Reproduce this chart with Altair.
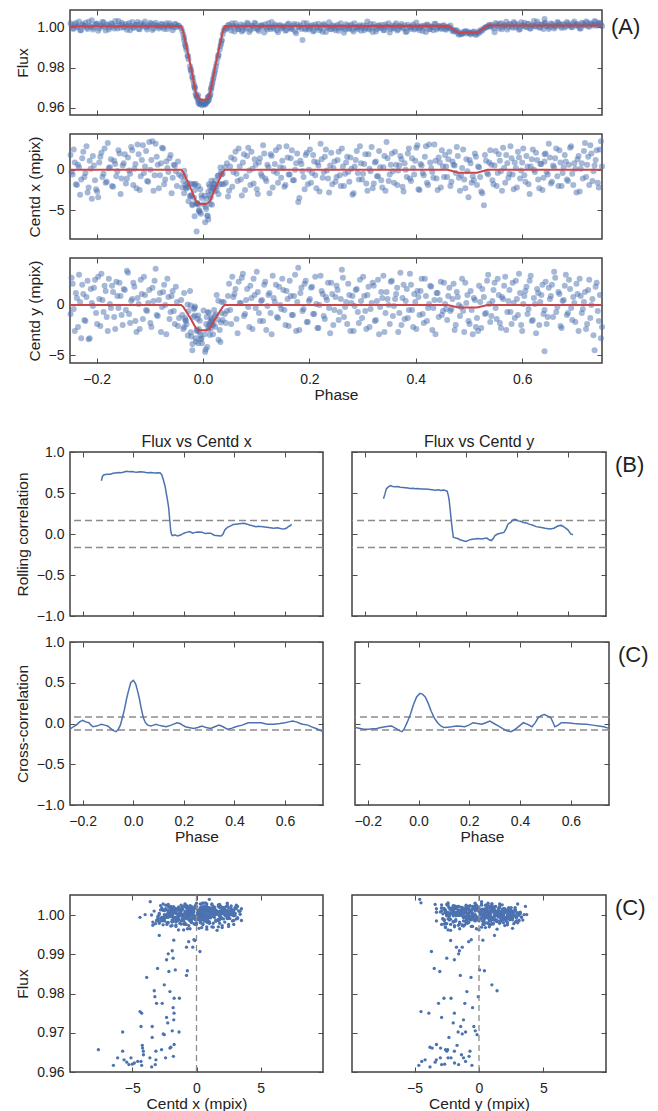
import altair as alt
import pandas as pd

# ---------------- phase-folded light curve: flux and centroid shifts ----------------
# out-of-transit, before primary eclipse
pre_phase = [-0.249, -0.245, -0.241, -0.237, -0.233, -0.229, -0.225, -0.221, -0.217, -0.213,
             -0.209, -0.205, -0.201, -0.197, -0.193, -0.189, -0.185, -0.181, -0.177, -0.173,
             -0.169, -0.165, -0.161, -0.157, -0.153,
             -0.149, -0.145, -0.141, -0.137, -0.133, -0.129, -0.125, -0.121, -0.117, -0.113,
             -0.109, -0.105, -0.101, -0.097, -0.093, -0.089, -0.085, -0.081, -0.077, -0.073,
             -0.069, -0.065, -0.061, -0.057, -0.053, -0.049, -0.045]
pre_flux = [1.0019, 0.9994, 1.0013, 1.0001, 1.0028, 0.9985, 1.0010, 1.0022, 0.9991, 1.0007,
            1.0034, 0.9998, 1.0016, 0.9982, 1.0010, 1.0025, 1.0001, 1.0013, 0.9988, 1.0019,
            1.0004, 1.0031, 0.9994, 1.0010, 1.0022,
            0.9998, 1.0016, 1.0007, 0.9985, 1.0025, 1.0001, 1.0013, 0.9991, 1.0019, 1.0004,
            1.0028, 0.9988, 1.0010, 1.0016, 0.9994, 1.0022, 1.0007, 1.0001, 1.0013, 0.9991,
            1.0019, 1.0004, 1.0010, 0.9985, 1.0016, 1.0001, 1.0007]
pre_cx = [1.8, -0.6, 0.9, -1.9, 0.3, -1.2, 2.2, -0.4, -2.8, 1.1,
          -3.6, 0.5, -2.4, -3.4, 1.6, -0.9, 2.6, -1.5, 0.2, 1.3,
          -2.1, 0.7, -0.2, 2.0, -1.1,
          0.8, -1.7, 1.5, -0.5, 2.4, 0.1, -2.3, 1.9, -0.8, 3.0,
          0.4, -1.4, 3.4, 1.2, -2.6, 3.2, 0.6, -0.7, 2.7, -1.8,
          1.0, -0.3, 1.8, -1.0, 0.5, -2.0, -0.6]
pre_cy = [-0.9, 2.1, -2.6, 0.7, 3.0, -3.3, 1.1, -1.6, 2.4, -3.3,
          0.2, 1.7, -0.8, 2.8, -2.1, 0.5, 1.9, -1.2, 2.6, -0.3,
          1.3, -2.4, 0.9, 2.2, -1.0,
          1.6, -0.5, 3.2, -1.8, 0.6, 1.8, -2.7, 0.1, 2.5, -1.4,
          1.0, -0.6, 1.5, -2.2, 0.4, 3.6, -1.1, 1.2, -0.2, 2.0,
          -2.9, 0.8, -0.7, 1.4, -1.9, 0.3, -1.3]
fill_pre_phase = [-0.247, -0.243, -0.239, -0.235, -0.231, -0.227, -0.223, -0.219, -0.215, -0.211,
                  -0.207, -0.203, -0.199, -0.195, -0.191, -0.187, -0.183, -0.179, -0.175, -0.171,
                  -0.167, -0.163, -0.159, -0.155, -0.151, -0.147, -0.143, -0.139, -0.135, -0.131,
                  -0.127, -0.123, -0.119, -0.115, -0.111, -0.107, -0.103, -0.099, -0.095, -0.091,
                  -0.087, -0.083, -0.079, -0.075, -0.071, -0.067, -0.063, -0.059, -0.055, -0.051,
                  -0.047]
fill_pre_flux = [1.0008, 0.9992, 1.0021, 1.0003, 0.9985, 1.0014, 1.0006, 0.9998, 1.0027, 1.0001,
                 0.9989, 1.0012, 1.0018, 0.9995, 1.0004, 1.0024, 0.9983, 1.0010, 1.0000, 1.0016,
                 0.9993, 1.0007, 1.0030, 0.9997, 1.0013, 1.0002, 0.9987, 1.0019, 1.0005, 0.9996,
                 1.0011, 1.0025, 0.9990, 1.0008, 1.0015, 0.9999, 1.0003, 1.0022, 0.9986, 1.0012,
                 1.0006, 0.9994, 1.0017, 1.0001, 1.0009, 0.9991, 1.0020, 1.0004, 0.9998, 1.0014,
                 1.0007]
fill_pre_cx = [-0.3, 2.5, -1.8, 0.6, -3.1, 1.4, -0.9, 2.9, -2.2, 0.1,
               1.7, -1.3, -2.7, 0.9, 2.1, -0.5, -1.6, 3.3, 0.3, -2.0,
               1.1, -0.8, 2.4, -3.0, 0.5, 1.9, -1.1, -0.1, 2.8, -1.9,
               0.7, 3.1, -2.5, 1.2, -0.4, 2.3, -1.5, 0.0, 3.5, -0.7,
               1.6, -2.3, 0.8, 2.6, -1.2, 0.2, 1.4, -2.9, 0.6, -0.2,
               1.0]
fill_pre_cy = [2.7, -0.4, 1.2, -2.2, 0.3, 2.0, -1.5, 0.8, -3.4, 1.6,
               -0.1, 2.5, -1.9, 0.6, 3.1, -0.7, 1.4, -2.6, 0.1, 1.9,
               -1.2, 2.3, -0.3, 0.9, -2.0, 1.5, 3.4, -0.9, 0.4, 2.2,
               -1.6, 0.7, -2.4, 1.1, 2.8, -0.5, 0.2, -1.8, 1.7, 2.4,
               -1.0, 0.5, -2.7, 1.3, 0.0, 2.6, -1.4, 0.9, -0.6, 1.8,
               -2.1]

# primary eclipse (edges + in transit)
tr_phase = [-0.041, -0.039, -0.037, -0.0355, 0.037, 0.039, 0.041,
            -0.002, 0.004, 0.001, -0.006, 0.003, -0.007, 0.006, -0.004, 0.005, -0.009,
            0.008, -0.003, 0.010, -0.008, 0.007, -0.005, 0.011, -0.010, 0.009, -0.011,
            0.012, -0.012, 0.010, -0.013, 0.013, -0.009, 0.014, -0.014, 0.0146, -0.0152,
            0.0154, -0.0158, 0.0158, -0.0160, 0.0169, -0.0169, 0.0177, -0.0183, 0.0188, -0.0198,
            0.0198, -0.0201, 0.0209, -0.0218, 0.0218, -0.0229, 0.0229, -0.0232, 0.0243, -0.0244,
            0.0257, -0.0273, 0.0277, -0.0285, 0.0287, -0.0289, 0.0292, -0.0310, 0.0314, -0.0323,
            0.0328, -0.0330, 0.0338, -0.0338, 0.0349, -0.0352, 0.0353]
tr_flux = [0.9996, 0.9981, 0.9962, 0.9948, 0.9965, 0.9984, 0.9997,
           0.9613, 0.9617, 0.9617, 0.9619, 0.9619, 0.9620, 0.9623, 0.9625, 0.9627, 0.9627,
           0.9631, 0.9631, 0.9636, 0.9636, 0.9636, 0.9636, 0.9640, 0.9644, 0.9653, 0.9653,
           0.9653, 0.9657, 0.9657, 0.9661, 0.9661, 0.9663, 0.9668, 0.9670, 0.9688, 0.9695,
           0.9697, 0.9702, 0.9702, 0.9705, 0.9716, 0.9716, 0.9725, 0.9733, 0.9739, 0.9750,
           0.9750, 0.9754, 0.9764, 0.9775, 0.9775, 0.9788, 0.9788, 0.9792, 0.9805, 0.9807,
           0.9822, 0.9841, 0.9846, 0.9856, 0.9858, 0.9860, 0.9864, 0.9886, 0.9890, 0.9901,
           0.9907, 0.9909, 0.9918, 0.9918, 0.9932, 0.9935, 0.9936]
tr_cx = [-0.8, -2.2, -1.4, -2.9, -0.5, -1.8, 0.3,
         -3.49, -6.47, -4.27, -5.26, -3.21, -5.00, -4.84, -5.43, -4.58, -4.32,
         -5.64, -3.16, -6.14, -5.10, -3.63, -2.41, -1.80, -4.13, -5.75, -4.14,
         -3.16, -7.64, -2.72, -4.20, -2.07, -2.00, -4.22, -1.74, -3.45, -2.51,
         -2.59, -5.75, -1.36, -1.89, -4.32, -3.45, -2.24, -1.77, -2.33, -4.27,
         -1.75, -4.40, -1.82, -3.11, -2.67, -1.74, -1.33, -3.24, -2.07, -3.29,
         -2.51, -3.88, -0.78, -2.15, -0.71, -1.65, -3.03, -2.33, -1.82, -2.20,
         0.27, -1.89, -0.29, -0.78, -0.61, -0.12, -1.77]
tr_cy = [0.5, -1.0, -2.4, 1.2, -1.5, 0.3, -0.9,
         -3.8, -4.67, -0.55, -1.58, -2.9, -2.66, -1.9, -3.4, -4.44, -1.04,
         -4.18, -3.31, -2.17, -2.4, -1.2, -3.0, -0.77, -1.36, -0.7, -2.5,
         -1.91, -2.6, -2.43, -3.63, -2.98, -3.8, -1.7, -3.3, -2.33, -0.15,
         -1.3, -1.04, -1.62, -0.29, -1.42, -0.4, -2.0, -1.2, -2.9, -3.89,
         -1.91, -4.5, -0.5, -3.14, -1.1, -2.72, -2.17, -0.06, -0.94, 1.4,
         1.0, -0.62, -1.45, -3.04, 0.42, 0.04, -3.47, -1.91, -2.5, -1.58,
         -3.69, -1.52, -1.75, -1.3, -0.8, -2.2, 0.3]

# out-of-transit, between the eclipses
mid_phase = [0.043, 0.047, 0.051, 0.055, 0.059, 0.063, 0.067, 0.071, 0.075, 0.079,
             0.083, 0.087, 0.091, 0.095, 0.099, 0.103, 0.107, 0.111, 0.115, 0.119,
             0.123, 0.127, 0.131, 0.135, 0.139, 0.143, 0.147,
             0.151, 0.155, 0.159, 0.163, 0.167, 0.171, 0.175, 0.179, 0.183, 0.187,
             0.191, 0.195, 0.199, 0.203, 0.207, 0.211, 0.215, 0.219, 0.223, 0.227,
             0.231, 0.235, 0.239, 0.243, 0.247, 0.251, 0.255, 0.259, 0.263, 0.267,
             0.271, 0.275, 0.279, 0.283, 0.287, 0.291, 0.295, 0.299,
             0.303, 0.307, 0.311, 0.315, 0.319, 0.323, 0.327, 0.331, 0.335, 0.339,
             0.343, 0.347, 0.351, 0.355, 0.359, 0.363, 0.367, 0.371, 0.375, 0.379,
             0.383, 0.387, 0.391, 0.395, 0.399, 0.403, 0.407, 0.411, 0.415, 0.419,
             0.423, 0.427, 0.431, 0.435, 0.439, 0.443, 0.447, 0.451, 0.455]
mid_flux = [0.9988, 1.0010, 0.9998, 1.0019, 0.9979, 1.0004, 0.9991, 1.0013, 0.9985, 1.0001,
            1.0022, 0.9976, 1.0007, 0.9994, 1.0016, 0.9988, 1.0004, 1.0010, 0.9973, 0.9998,
            1.0019, 0.9991, 1.0001, 1.0013, 0.9985, 1.0007, 0.9994,
            1.0004, 0.9982, 1.0013, 0.9998, 0.9991, 1.0016, 0.9970, 1.0001, 1.0010, 0.9937,
            0.9994, 1.0019, 0.9988, 1.0004, 0.9979, 1.0013, 0.9998, 0.9985, 1.0007, 1.0016,
            0.9976, 1.0001, 0.9991, 1.0010, 0.9994, 1.0004, 0.9982, 1.0019, 0.9998, 0.9988,
            1.0007, 0.9994, 1.0013, 0.9979, 1.0001, 0.9991, 1.0010, 0.9998,
            0.9985, 1.0007, 0.9994, 1.0016, 0.9976, 1.0001, 0.9991, 1.0010, 0.9998, 0.9985,
            1.0013, 1.0001, 0.9973, 1.0007, 0.9994, 1.0019, 0.9988, 1.0004, 0.9998, 1.0010,
            0.9979, 1.0001, 0.9991, 1.0013, 0.9994, 1.0004, 0.9985, 1.0007, 0.9998, 0.9976,
            1.0010, 0.9991, 1.0001, 1.0016, 0.9988, 1.0004, 0.9994, 1.0007, 0.9991]
mid_cx = [-1.6, -3.3, 0.4, -2.1, 1.3, -0.5, 2.6, -1.2, 0.9, -2.5,
          1.7, -0.1, 2.2, -1.7, 0.6, -3.0, 1.4, -0.8, 2.0, -1.4,
          0.3, 1.9, -2.2, 0.7, -0.4, 2.8, -1.0,
          0.2, -1.9, 1.5, -0.6, 2.4, -1.3, 0.8, -4.0, 1.1, -0.2,
          -2.4, 2.1, 0.0, -1.6, 1.8, -0.7, 0.9, -2.7, 1.3, -0.3,
          2.5, -1.1, 0.5, -1.8, 1.0, -0.9, 2.2, -2.0, 0.4, -0.5,
          1.6, -1.5, 0.1, -2.9, 1.2, -0.4, 2.9, -1.2,
          0.7, -1.7, 1.9, -0.2, -2.3, 0.9, -0.8, 2.3, -1.3, 0.3,
          -2.6, 1.4, -0.6, 2.0, -1.6, 0.6, -0.1, 1.7, -2.1, 0.8,
          -0.9, 2.6, -1.4, 0.2, 1.1, 3.0, -2.5, 0.5, -0.7, 2.9,
          -1.9, 0.9, -0.3, 3.1, -1.1, 1.5, -2.2, 0.4, 1.8]
mid_cy = [-1.8, 0.9, -0.5, 2.8, 1.1, -1.4, 2.3, 0.2, 3.1, -0.9,
          1.6, -2.2, 0.7, 2.6, -0.3, 1.3, -1.6, 0.5, 2.0, -2.5,
          1.0, -0.8, 2.9, 0.3, -1.2, 1.8, -0.4,
          1.5, -2.0, 0.6, 2.4, -1.0, 0.9, -2.6, 3.7, 1.2, -0.6,
          2.1, -1.7, 0.4, 1.7, -0.9, 2.8, -2.3, 0.0, 1.4, -1.1,
          0.8, 2.2, -2.8, 1.1, -0.5, 1.9, -1.5, 0.6, 2.7, -0.2,
          -1.9, 1.0, 0.2, -2.6, 1.5, -0.7, 2.5, -1.3,
          0.9, -2.4, 1.8, -0.4, 2.2, -1.6, 0.4, -2.9, 1.3, 2.9,
          -0.8, 0.6, -1.9, 2.4, -0.1, 1.1, -2.7, 3.2, 0.7, -1.4,
          1.6, -0.5, 2.0, -2.2, 0.3, 1.4, -1.0, 2.6, -1.8, 0.9,
          -0.3, 1.9, -2.5, 0.5, 1.2, -1.2, 2.3, -0.6, 0.1]
fill_mid_phase = [0.045, 0.049, 0.053, 0.057, 0.061, 0.065, 0.069, 0.073, 0.077, 0.081,
                  0.085, 0.089, 0.093, 0.097, 0.101, 0.105, 0.109, 0.113, 0.117, 0.121,
                  0.125, 0.129, 0.133, 0.137, 0.141, 0.145, 0.149, 0.153, 0.157, 0.161,
                  0.165, 0.169, 0.173, 0.177, 0.181, 0.185, 0.189, 0.193, 0.197, 0.201,
                  0.205, 0.209, 0.213, 0.217, 0.221, 0.225, 0.229, 0.233, 0.237, 0.241,
                  0.245, 0.249, 0.253, 0.257, 0.261, 0.265, 0.269, 0.273, 0.277, 0.281,
                  0.285, 0.289, 0.293, 0.297, 0.301, 0.305, 0.309, 0.313, 0.317, 0.321,
                  0.325, 0.329, 0.333, 0.337, 0.341, 0.345, 0.349, 0.353, 0.357, 0.361,
                  0.365, 0.369, 0.373, 0.377, 0.381, 0.385, 0.389, 0.393, 0.397, 0.401,
                  0.405, 0.409, 0.413, 0.417, 0.421, 0.425, 0.429, 0.433, 0.437, 0.441,
                  0.445, 0.449, 0.453, 0.457]
fill_mid_flux = [0.9996, 1.0012, 0.9984, 1.0005, 1.0019, 0.9990, 1.0002, 0.9978, 1.0009, 0.9993,
                 1.0016, 0.9987, 1.0004, 1.0022, 0.9995, 0.9981, 1.0008, 0.9999, 1.0014, 0.9989,
                 1.0001, 1.0026, 0.9992, 1.0006, 0.9975, 1.0011, 0.9997, 1.0003, 0.9986, 1.0018,
                 0.9994, 1.0007, 0.9980, 1.0013, 1.0000, 0.9991, 1.0021, 0.9988, 1.0005, 0.9996,
                 1.0010, 0.9983, 1.0002, 1.0017, 0.9993, 0.9977, 1.0008, 0.9998, 1.0024, 0.9990,
                 1.0004, 0.9985, 1.0012, 0.9995, 1.0001, 0.9972, 1.0015, 0.9992, 1.0006, 0.9987,
                 1.0020, 0.9997, 1.0003, 0.9982, 1.0010, 0.9994, 1.0028, 0.9989, 1.0000, 1.0014,
                 0.9979, 1.0007, 0.9996, 1.0011, 0.9986, 1.0002, 1.0019, 0.9991, 0.9998, 1.0009,
                 0.9984, 1.0005, 1.0016, 0.9993, 0.9976, 1.0012, 0.9999, 1.0004, 0.9988, 1.0023,
                 0.9995, 1.0001, 0.9981, 1.0008, 1.0013, 0.9990, 1.0003, 0.9985, 1.0017, 0.9997,
                 1.0006, 0.9992, 1.0010, 0.9987]
fill_mid_cx = [0.8, -2.6, 1.5, -0.3, 2.2, -1.4, 0.4, -3.2, 1.9, -0.8,
               2.7, -1.9, 0.1, 1.3, -2.4, 0.9, -0.5, 3.0, -1.1, 0.6,
               -2.9, 1.7, -0.2, 2.4, -1.6, 0.3, 1.1, -2.1, 2.9, -0.6,
               1.4, -1.3, 0.0, 2.0, -3.5, 0.7, -0.9, 1.8, -1.8, 2.5,
               -0.4, 1.0, -2.3, 0.5, 3.2, -1.0, 1.6, -0.1, -2.8, 2.1,
               0.2, -1.5, 1.2, -0.7, 2.6, -2.0, 0.9, -0.3, 1.5, -3.1,
               0.4, 2.3, -1.2, 0.8, -0.5, 1.9, -2.6, 0.1, 2.8, -1.7,
               1.0, -0.8, 0.3, -2.2, 1.7, 3.4, -1.4, 0.6, -0.2, 2.2,
               -1.9, 0.5, 1.3, -2.7, 0.0, 2.0, -1.1, 1.4, -0.6, 2.7,
               -2.4, 0.7, -0.4, 1.6, -1.6, 3.1, 0.2, -1.0, 1.1, -2.5,
               0.9, 2.4, -0.9, 0.4]
fill_mid_cy = [-0.6, 2.1, -1.9, 0.8, 1.6, -2.8, 0.2, 2.7, -1.1, 0.5,
               -0.2, 1.9, -2.4, 1.0, 3.3, -0.8, 0.4, -1.6, 2.3, -0.1,
               1.2, -2.9, 0.7, 2.0, -1.3, 0.0, 2.6, -0.5, 1.4, -2.1,
               0.9, -1.0, 3.0, 0.3, -2.5, 1.7, -0.4, 2.4, -1.7, 0.6,
               1.8, -0.9, 0.1, -2.3, 2.9, 1.1, -1.4, 0.5, -0.3, 2.2,
               -2.0, 0.8, 1.5, -0.7, 3.5, -1.2, 0.3, 2.1, -2.6, 0.9,
               -0.1, 1.6, -1.8, 0.4, 2.8, -0.6, 1.0, -2.2, 0.2, 1.9,
               -1.5, 2.5, -0.2, 0.7, -2.7, 1.3, 0.0, 2.3, -1.1, 0.6,
               1.7, -0.8, -2.0, 2.0, 0.4, -1.3, 3.1, -0.5, 1.1, -2.4,
               0.8, 1.4, -0.9, 2.6, -1.6, 0.1, 1.8, -0.3, -2.9, 1.2,
               0.5, -1.0, 2.2, -0.4]

# secondary eclipse
sec_phase = [0.459, 0.463, 0.467, 0.469, 0.471, 0.475, 0.479, 0.481, 0.483, 0.487,
             0.489, 0.491, 0.495, 0.497, 0.499, 0.503, 0.505, 0.507, 0.511, 0.513,
             0.515, 0.519, 0.521, 0.523, 0.528, 0.532, 0.536, 0.540,
             0.461, 0.465, 0.473, 0.477, 0.485, 0.493, 0.501, 0.509, 0.517, 0.525,
             0.530, 0.534, 0.538]
sec_flux = [1.0001, 1.0000, 0.9992, 0.9980, 0.9985, 0.9983, 0.9970, 0.9962, 0.9975, 0.9966,
            0.9971, 0.9977, 0.9969, 0.9978, 0.9974, 0.9964, 0.9971, 0.9976, 0.9968, 0.9961,
            0.9973, 0.9980, 0.9976, 0.9987, 0.9994, 1.0001, 1.0006, 1.0003,
            0.9996, 1.0008, 0.9978, 0.9985, 0.9965, 0.9981, 0.9970, 0.9979, 0.9968, 0.9983,
            0.9997, 0.9999, 1.0012]
sec_cx = [-0.9, 2.2, -1.5, 1.0, 0.6, -0.4, 1.7, -1.0, -2.6, 0.2,
          2.5, -1.2, 1.3, -0.2, -3.4, 0.8, -1.6, -0.8, 2.0, 1.6,
          -1.9, 0.3, -0.9, -2.7, -4.4, 1.1, -0.6, 2.4,
          1.3, -2.0, 0.5, 2.8, -0.7, -2.3, 1.2, -1.3, 0.4, -2.9,
          1.8, -0.4, 0.9]
sec_cy = [-1.5, 1.7, -0.4, 0.6, 2.1, -2.0, 0.8, 0.0, -1.1, 2.6,
          -0.6, -2.7, 0.2, 1.0, -1.6, 1.4, -0.5, -2.9, 0.5, -2.2,
          -1.3, 1.9, 0.3, -2.3, 0.8, -0.8, 3.0, -1.7,
          0.9, -0.6, -2.5, 1.3, -0.2, 2.2, -1.9, 0.7, -2.6, 1.6,
          -0.9, 2.4, 0.1]

# out-of-transit, after the secondary eclipse
post_phase = [0.544, 0.548, 0.552, 0.556, 0.560, 0.564, 0.568, 0.572, 0.576, 0.580,
              0.584, 0.588, 0.592, 0.596, 0.600, 0.604, 0.608, 0.612, 0.616, 0.620,
              0.624, 0.628, 0.632, 0.636, 0.640, 0.644, 0.648, 0.652, 0.656, 0.660,
              0.664, 0.668, 0.672, 0.676, 0.680, 0.684, 0.688, 0.692, 0.696, 0.700,
              0.704, 0.708, 0.712, 0.716, 0.720, 0.724, 0.728, 0.732, 0.736, 0.740,
              0.744, 0.748, 0.642]
post_flux = [1.0004, 0.9975, 1.0013, 0.9994, 1.0019, 1.0001, 1.0010, 0.9988, 1.0016, 1.0004,
             1.0025, 0.9998, 1.0013, 0.9991, 1.0007, 1.0022, 1.0001, 1.0016, 0.9994, 1.0010,
             1.0004, 1.0028, 0.9998, 1.0013, 0.9991, 1.0019, 1.0007, 1.0001, 1.0016, 0.9994,
             1.0010, 1.0022, 1.0004, 1.0013, 0.9998, 1.0025, 1.0010, 1.0001, 1.0019, 1.0007,
             1.0016, 0.9994, 1.0022, 1.0010, 1.0028, 1.0004, 1.0019, 1.0013, 1.0031, 1.0007,
             1.0022, 1.0016, 1.0040]
post_cx = [-1.3, 0.5, -2.0, 1.9, -0.2, 2.7, -1.6, 0.8, -0.5, 1.4,
           -2.4, 0.2, 2.2, -1.1, 0.9, -0.7, 1.7, -1.8, 0.4, 2.5,
           -0.3, 1.2, -2.3, 0.7, -1.0, 2.0, -0.6, 1.5, -1.5, 0.3,
           2.6, -2.0, 0.9, -0.4, 1.8, -1.2, 0.6, 2.9, -1.9, 0.1,
           1.3, -2.7, 0.8, 2.3, -0.9, 1.6, 3.0, -1.4, 0.5, 2.4,
           -2.2, 3.5, 1.0]
post_cy = [0.4, 2.2, -1.4, 1.0, -2.3, 0.6, 2.8, -0.7, 1.5, -1.9,
           0.2, 2.4, -1.0, 1.2, -2.6, 0.9, 1.8, -0.4, 2.9, -1.5,
           0.1, 1.6, -2.0, 1.0, -0.9, 2.3, -1.2, 0.6, 2.0, 3.3,
           -0.7, 1.3, -2.1, 0.4, 1.9, -1.0, 2.5, -0.3, 0.8, -1.7,
           1.1, 2.6, -0.8, 0.3, -2.4, 1.5, -1.3, 0.6, -4.5, 2.2,
           -1.6, -3.3, -4.6]
fill_post_phase = [0.542, 0.546, 0.550, 0.554, 0.558, 0.562, 0.566, 0.570, 0.574, 0.578,
                   0.582, 0.586, 0.590, 0.594, 0.598, 0.602, 0.606, 0.610, 0.614, 0.618,
                   0.622, 0.626, 0.630, 0.634, 0.638, 0.642, 0.646, 0.650, 0.654, 0.658,
                   0.662, 0.666, 0.670, 0.674, 0.678, 0.682, 0.686, 0.690, 0.694, 0.698,
                   0.702, 0.706, 0.710, 0.714, 0.718, 0.722, 0.726, 0.730, 0.734, 0.738,
                   0.742, 0.746, 0.750]
fill_post_flux = [1.0012, 0.9995, 1.0021, 1.0004, 1.0016, 0.9990, 1.0009, 1.0027, 1.0001, 1.0013,
                  0.9997, 1.0019, 1.0006, 0.9987, 1.0024, 1.0010, 1.0002, 1.0017, 0.9993, 1.0008,
                  1.0030, 1.0003, 1.0014, 0.9998, 1.0011, 1.0022, 1.0005, 0.9991, 1.0018, 1.0007,
                  1.0001, 1.0025, 1.0012, 0.9996, 1.0015, 1.0004, 1.0020, 1.0009, 0.9999, 1.0028,
                  1.0013, 1.0006, 0.9994, 1.0017, 1.0010, 1.0023, 1.0002, 1.0015, 1.0008, 1.0026,
                  1.0011, 1.0019, 1.0005]
fill_post_cx = [0.6, -1.8, 2.3, -0.4, 1.1, -2.6, 0.2, 1.8, -1.0, 2.9,
                -0.6, 0.9, -2.2, 1.5, -0.1, 2.6, -1.5, 0.4, -3.0, 1.3,
                0.0, 2.1, -1.2, 0.7, -2.5, 1.9, -0.3, 3.2, -1.7, 0.5,
                1.4, -0.8, 2.4, -2.0, 0.3, 1.0, -1.4, 2.7, -0.5, 0.8,
                -2.8, 1.7, 0.1, -1.1, 3.3, 0.6, -1.9, 2.0, -0.2, 1.2,
                -1.6, 2.5, 0.4]
fill_post_cy = [-1.1, 1.5, -0.3, 2.6, -1.8, 0.8, 1.9, -2.5, 0.4, -0.7,
                2.2, -1.3, 0.6, 3.1, -2.0, 0.1, 1.4, -0.9, 2.4, -1.6,
                0.7, -2.8, 1.2, 0.3, 2.0, -0.5, -1.9, 1.7, 0.9, -1.2,
                2.7, -0.2, 1.1, -2.3, 0.5, 3.0, -0.8, 1.6, -1.5, 0.2,
                2.1, -2.6, 0.9, -0.4, 1.3, -1.9, 2.5, 0.0, -3.0, 1.8,
                -0.6, 1.0, -2.2]

# eclipse model (red curves)
model_phase = [-0.25, -0.041, -0.037, -0.030, -0.022, -0.0135, -0.009, -0.005, 0.005, 0.009,
               0.0135, 0.022, 0.030, 0.037, 0.041, 0.46, 0.48, 0.515, 0.535, 0.75]
model_flux = [1.0004, 1.0004, 0.9976, 0.9892, 0.9794, 0.9674, 0.9649, 0.9641, 0.9641, 0.9649,
              0.9674, 0.9794, 0.9892, 0.9976, 1.0005, 1.0007, 0.9972, 0.9972, 1.0008, 1.0008]
model_cx = [0.0, 0.0, -0.33, -1.3, -2.45, -3.85, -4.13, -4.22, -4.22, -4.13,
            -3.85, -2.45, -1.3, -0.33, 0.0, 0.0, -0.38, -0.38, 0.0, 0.0]
model_cy = [0.0, 0.0, -0.19, -0.78, -1.46, -2.29, -2.46, -2.52, -2.52, -2.46,
            -2.29, -1.46, -0.78, -0.19, 0.0, 0.0, -0.24, -0.24, 0.0, 0.0]

# (B) rolling correlation
roll_x_phase = [-0.126, -0.122, -0.117, -0.110, -0.100, -0.090, -0.080, -0.070, -0.059, -0.050,
                -0.040, -0.026, -0.015, -0.005, 0.005, 0.015, 0.025, 0.040, 0.055, 0.070,
                0.085, 0.100, 0.107, 0.113, 0.120, 0.126, 0.131, 0.136, 0.140, 0.144,
                0.148, 0.152, 0.156, 0.165, 0.175, 0.189, 0.200, 0.210, 0.223, 0.235,
                0.245, 0.255, 0.272, 0.285, 0.295, 0.306, 0.320, 0.335, 0.347, 0.355,
                0.362, 0.372, 0.385, 0.395, 0.405, 0.420, 0.438, 0.450, 0.460, 0.471,
                0.485, 0.495, 0.505, 0.520, 0.535, 0.555, 0.570, 0.585, 0.596, 0.605,
                0.613, 0.620, 0.626]
roll_x_val = [0.65, 0.70, 0.72, 0.725, 0.73, 0.728, 0.74, 0.745, 0.75, 0.748,
              0.752, 0.765, 0.758, 0.762, 0.755, 0.752, 0.758, 0.755, 0.748, 0.75,
              0.745, 0.746, 0.745, 0.72, 0.65, 0.58, 0.49, 0.40, 0.32, 0.18,
              0.04, -0.01, -0.02, -0.01, -0.025, -0.01, 0.01, 0.02, 0.03, 0.01,
              0.02, 0.025, 0.02, 0.005, 0.01, 0.01, -0.015, -0.02, -0.025, 0.0,
              0.05, 0.08, 0.10, 0.115, 0.12, 0.125, 0.13, 0.12, 0.11, 0.10,
              0.09, 0.095, 0.09, 0.085, 0.08, 0.07, 0.075, 0.065, 0.06, 0.07,
              0.09, 0.10, 0.12]
roll_y_phase = [-0.126, -0.121, -0.115, -0.107, -0.098, -0.090, -0.080, -0.070, -0.060, -0.049,
                -0.040, -0.030, -0.020, -0.010, 0.000, 0.010, 0.020, 0.034, 0.050, 0.065,
                0.080, 0.090, 0.100, 0.110, 0.118, 0.125, 0.130, 0.133, 0.137, 0.141,
                0.145, 0.149, 0.158, 0.166, 0.175, 0.185, 0.199, 0.210, 0.222, 0.232,
                0.245, 0.260, 0.270, 0.281, 0.290, 0.298, 0.305, 0.313, 0.323, 0.335,
                0.348, 0.356, 0.364, 0.375, 0.383, 0.389, 0.396, 0.405, 0.413, 0.425,
                0.437, 0.447, 0.460, 0.475, 0.496, 0.510, 0.529, 0.545, 0.562, 0.575,
                0.587, 0.600, 0.611, 0.620]
roll_y_val = [0.43, 0.48, 0.55, 0.575, 0.59, 0.58, 0.575, 0.578, 0.57, 0.568,
              0.565, 0.56, 0.555, 0.558, 0.552, 0.555, 0.548, 0.55, 0.545, 0.54,
              0.535, 0.54, 0.532, 0.535, 0.53, 0.52, 0.46, 0.40, 0.28, 0.16,
              0.05, -0.04, -0.05, -0.055, -0.07, -0.08, -0.09, -0.075, -0.065, -0.06,
              -0.055, -0.06, -0.055, -0.05, -0.07, -0.08, -0.06, -0.02, 0.0, 0.01,
              0.02, 0.06, 0.12, 0.14, 0.17, 0.18, 0.175, 0.16, 0.155, 0.14,
              0.135, 0.12, 0.11, 0.09, 0.08, 0.07, 0.06, 0.07, 0.10, 0.105,
              0.08, 0.05, 0.00, -0.01]
roll_limits = [0.165, -0.165]

# (C) cross-correlation
xcor_x_phase = [-0.250, -0.237, -0.225, -0.212, -0.200, -0.188, -0.175, -0.167, -0.159, -0.145,
                -0.135, -0.126, -0.113, -0.101, -0.090, -0.076, -0.068, -0.059, -0.051, -0.043,
                -0.035, -0.026, -0.018, -0.010, 0.000, 0.005, 0.010, 0.017, 0.024, 0.032,
                0.040, 0.048, 0.057, 0.070, 0.080, 0.090, 0.100, 0.115, 0.131, 0.150,
                0.173, 0.185, 0.195, 0.206, 0.220, 0.239, 0.255, 0.272, 0.288, 0.306,
                0.322, 0.339, 0.355, 0.372, 0.388, 0.405, 0.430, 0.455, 0.480, 0.505,
                0.530, 0.555, 0.580, 0.600, 0.615, 0.629, 0.645, 0.660, 0.670, 0.690,
                0.712, 0.730, 0.750]
xcor_x_val = [-0.07, -0.04, -0.02, 0.02, 0.04, 0.02, 0.01, -0.02, -0.04, -0.03,
              -0.02, -0.01, -0.02, -0.03, -0.06, -0.09, -0.10, -0.07, -0.02, 0.07,
              0.17, 0.31, 0.41, 0.50, 0.53, 0.51, 0.48, 0.40, 0.31, 0.18,
              0.07, 0.01, -0.02, -0.03, -0.02, -0.01, -0.02, -0.03, -0.04, -0.02,
              0.01, 0.0, -0.02, -0.04, -0.05, -0.06, -0.05, -0.03, -0.05, -0.06,
              -0.04, -0.02, -0.04, -0.07, -0.06, -0.04, -0.02, 0.01, 0.01, 0.01,
              -0.01, -0.01, 0.0, 0.01, 0.02, 0.03, 0.02, 0.0, -0.01, -0.02,
              -0.05, -0.07, -0.10]
xcor_y_phase = [-0.247, -0.230, -0.215, -0.197, -0.180, -0.164, -0.148, -0.131, -0.118, -0.106,
                -0.095, -0.084, -0.073, -0.065, -0.057, -0.045, -0.032, -0.020, -0.007, 0.006,
                0.015, 0.026, 0.038, 0.050, 0.062, 0.075, 0.088, 0.100, 0.115, 0.130,
                0.149, 0.165, 0.182, 0.198, 0.215, 0.232, 0.249, 0.265, 0.281, 0.297,
                0.314, 0.330, 0.348, 0.364, 0.376, 0.389, 0.401, 0.413, 0.430, 0.447,
                0.460, 0.471, 0.484, 0.496, 0.509, 0.521, 0.530, 0.537, 0.550, 0.562,
                0.585, 0.611, 0.636, 0.661, 0.685, 0.710, 0.730, 0.749]
xcor_y_val = [-0.05, -0.06, -0.07, -0.07, -0.065, -0.06, -0.05, -0.04, -0.035, -0.03,
              -0.05, -0.07, -0.09, -0.10, -0.07, 0.01, 0.11, 0.23, 0.33, 0.37,
              0.36, 0.33, 0.25, 0.15, 0.07, 0.01, -0.03, -0.05, -0.045, -0.04,
              -0.03, -0.035, -0.04, -0.02, 0.01, 0.0, -0.01, 0.01, 0.03, 0.0,
              -0.03, -0.06, -0.09, -0.10, -0.08, -0.05, -0.02, 0.01, -0.01, -0.04,
              0.01, 0.07, 0.10, 0.11, 0.09, 0.07, 0.01, -0.04, -0.02, 0.01,
              0.01, 0.0, -0.005, -0.01, -0.02, -0.03, -0.04, -0.06]
xcor_limits = [0.08, -0.08]

tags = ["(A)", "(B)", "(C)", "(C)"]
panel_titles = ["Flux vs Centd x", "Flux vs Centd y"]

# ---------------- tables ----------------
lc_phase = pre_phase + fill_pre_phase + tr_phase + mid_phase + fill_mid_phase + sec_phase + post_phase + fill_post_phase
lc_flux = pre_flux + fill_pre_flux + tr_flux + mid_flux + fill_mid_flux + sec_flux + post_flux + fill_post_flux
lc_cx = pre_cx + fill_pre_cx + tr_cx + mid_cx + fill_mid_cx + sec_cx + post_cx + fill_post_cx
lc_cy = pre_cy + fill_pre_cy + tr_cy + mid_cy + fill_mid_cy + sec_cy + post_cy + fill_post_cy
assert len(lc_phase) == len(lc_flux) == len(lc_cx) == len(lc_cy), (
    len(lc_phase), len(lc_flux), len(lc_cx), len(lc_cy))

lc = pd.DataFrame({"phase": lc_phase, "flux": lc_flux, "cx": lc_cx, "cy": lc_cy})
model = pd.DataFrame({"phase": model_phase, "flux": model_flux, "cx": model_cx, "cy": model_cy})
roll_x = pd.DataFrame({"phase": roll_x_phase, "r": roll_x_val})
roll_y = pd.DataFrame({"phase": roll_y_phase, "r": roll_y_val})
xcor_x = pd.DataFrame({"phase": xcor_x_phase, "r": xcor_x_val})
xcor_y = pd.DataFrame({"phase": xcor_y_phase, "r": xcor_y_val})
roll_lim = pd.DataFrame({"r": roll_limits})
xcor_lim = pd.DataFrame({"r": xcor_limits})
zero_df = pd.DataFrame({"c": [0.0]})

# ---------------- style ----------------
FONT = "Liberation Sans"
BLUE = "#4c72b0"
RED = "#c9474b"
GRAY = "#8c8c8c"
TXT = "#222222"

PH_DOM = [-0.25, 0.75]
PH_TICKS = [-0.2, 0.0, 0.2, 0.4, 0.6]
CORR_DOM = [-1.0, 1.0]
CORR_TICKS = [-1.0, -0.5, 0.0, 0.5, 1.0]

AX = dict(tickSize=5, offset=-5, domain=False, grid=False, ticks=True,
          tickColor="#4d4d4d", tickWidth=1, labelFlush=False)

W_A, H_A = 532, 105
W_L, W_R = 253, 254
H_B, H_C, H_D = 164, 163, 177


def sc(dom):
    return alt.Scale(domain=dom, nice=False, zero=False)


def xq(field, dom, ticks, fmt, title, labels):
    return alt.X(f"{field}:Q", scale=sc(dom),
                 axis=alt.Axis(orient="bottom", values=ticks, format=fmt, title=title,
                               labels=labels, labelPadding=9, titlePadding=1, **AX))


def yq(field, dom, ticks, fmt, title, labels):
    return alt.Y(f"{field}:Q", scale=sc(dom),
                 axis=alt.Axis(orient="left", values=ticks, format=fmt, title=title,
                               labels=labels, labelPadding=6, titlePadding=6, **AX))


def mirror(df, xf, yf, xdom, ydom, xt, yt):
    return alt.Chart(df).mark_point(opacity=0).encode(
        x=alt.X(f"{xf}:Q", scale=sc(xdom),
                axis=alt.Axis(orient="top", values=xt, labels=False, title=None, **AX)),
        y=alt.Y(f"{yf}:Q", scale=sc(ydom),
                axis=alt.Axis(orient="right", values=yt, labels=False, title=None, **AX)),
    )


def tag(text, x, y):
    return alt.Chart(pd.DataFrame({"t": [text]})).mark_text(
        align="left", baseline="middle", fontSize=22, font=FONT, color=TXT
    ).encode(text="t:N", x=alt.value(x), y=alt.value(y))


def head(text, w):
    return alt.Chart(pd.DataFrame({"t": [text]})).mark_text(
        align="center", baseline="middle", fontSize=16, font=FONT, color=TXT
    ).encode(text="t:N", x=alt.value(w / 2), y=alt.value(-10))


def anchor():
    return alt.Chart(pd.DataFrame({"a": ["."]})).mark_text(
        align="left", baseline="middle", opacity=0, fontSize=10
    ).encode(text="a:N", x=alt.value(-61), y=alt.value(20))


def panel(layers, mdf, xf, yf, xdom, ydom, xt, yt, w, h):
    return alt.layer(alt.layer(*layers), mirror(mdf, xf, yf, xdom, ydom, xt, yt)).resolve_scale(
        x="independent", y="independent").properties(width=w, height=h)


# ---------------- (A) light curve panels ----------------
def lc_panel(yf, ydom, yticks, yfmt, ytitle, show_x, extra):
    x = xq("phase", PH_DOM, PH_TICKS, ".1f", "Phase" if show_x else None, show_x)
    y = yq(yf, ydom, yticks, yfmt, ytitle, True)
    pts = alt.Chart(lc).mark_circle(size=36, opacity=0.5, color=BLUE).encode(x=x, y=y)
    line = alt.Chart(model).mark_line(color=RED, strokeWidth=2).encode(x=x, y=y)
    return panel([pts, line] + extra, model, "phase", yf, PH_DOM, ydom, PH_TICKS, yticks, W_A, H_A)


rowA1 = alt.hconcat(lc_panel("flux", [0.9565, 1.0085], [0.96, 0.98, 1.00], ".2f", "Flux", False,
                             [tag(tags[0], 541, 17), anchor()]))
rowA2 = alt.hconcat(lc_panel("cx", [-8.55, 4.4], [-5, 0], "d", "Centd x (mpix)", False, [anchor()]))
rowA3 = alt.hconcat(lc_panel("cy", [-5.77, 4.67], [-5, 0], "d", "Centd y (mpix)", True, [anchor()]))


# ---------------- (B), (C) correlation panels ----------------
def corr_panel(df, lim, w, h, ytitle, show_x, extra):
    x = xq("phase", PH_DOM, PH_TICKS, ".1f", "Phase" if show_x else None, show_x)
    y = yq("r", CORR_DOM, CORR_TICKS, ".1f", ytitle, ytitle is not None)
    line = alt.Chart(df).mark_line(color=BLUE, strokeWidth=1.5).encode(x=x, y=y)
    rules = alt.Chart(lim).mark_rule(color=GRAY, strokeWidth=1.5, strokeDash=[7, 4]).encode(y=y)
    return panel([rules, line] + extra, df, "phase", "r", PH_DOM, CORR_DOM, PH_TICKS, CORR_TICKS, w, h)


rowB = alt.hconcat(
    corr_panel(roll_x, roll_lim, W_L, H_B, "Rolling correlation", False,
               [head(panel_titles[0], W_L), anchor()]),
    corr_panel(roll_y, roll_lim, W_R, H_B, None, False,
               [head(panel_titles[1], W_R), tag(tags[1], 263, 12.6)]),
    spacing=25,
)
rowC = alt.hconcat(
    corr_panel(xcor_x, xcor_lim, W_L, H_C, "Cross-correlation", True, [anchor()]),
    corr_panel(xcor_y, xcor_lim, W_R, H_C, None, True, [tag(tags[2], 263, 12.6)]),
    spacing=25,
)

# ---------------- flux vs centroid scatter ----------------
C_DOM = [-9.85, 9.85]
C_TICKS = [-5, 0, 5]
F_DOM = [0.96, 1.0051]
F_TICKS = [0.96, 0.97, 0.98, 0.99, 1.00]


def scat_panel(cf, xtitle, left, w, extra):
    x = xq(cf, C_DOM, C_TICKS, "d", xtitle, True)
    y = yq("flux", F_DOM, F_TICKS, ".2f", "Flux" if left else None, left)
    pts = alt.Chart(lc).mark_circle(size=11, opacity=1, color=BLUE).encode(x=x, y=y)
    vline = alt.Chart(zero_df).mark_rule(color=GRAY, strokeWidth=1.3, strokeDash=[6, 4]).encode(
        x=alt.X("c:Q", scale=sc(C_DOM)))
    return panel([pts, vline] + extra, lc, cf, "flux", C_DOM, F_DOM, C_TICKS, F_TICKS, w, H_D)


rowD = alt.hconcat(
    scat_panel("cx", "Centd x (mpix)", True, W_L, [anchor()]),
    scat_panel("cy", "Centd y (mpix)", False, W_R, [tag(tags[3], 263, 13.4)]),
    spacing=25,
)

g1 = alt.vconcat(rowA1, rowA2, rowA3, spacing=15)
g2 = alt.vconcat(rowB, rowC, spacing=10)
g12 = alt.vconcat(g1, g2, spacing=29)
chart = alt.vconcat(g12, rowD, spacing=47).properties(padding=0).configure_view(
    stroke="#404040", strokeWidth=1.5
).configure_axis(
    labelFont=FONT, titleFont=FONT, labelFontSize=14, titleFontSize=15.5,
    titleFontWeight="normal", labelColor=TXT, titleColor=TXT, grid=False
).configure_text(font=FONT)

chart.save("out.html", embed_options={"renderer": "svg", "actions": False})
